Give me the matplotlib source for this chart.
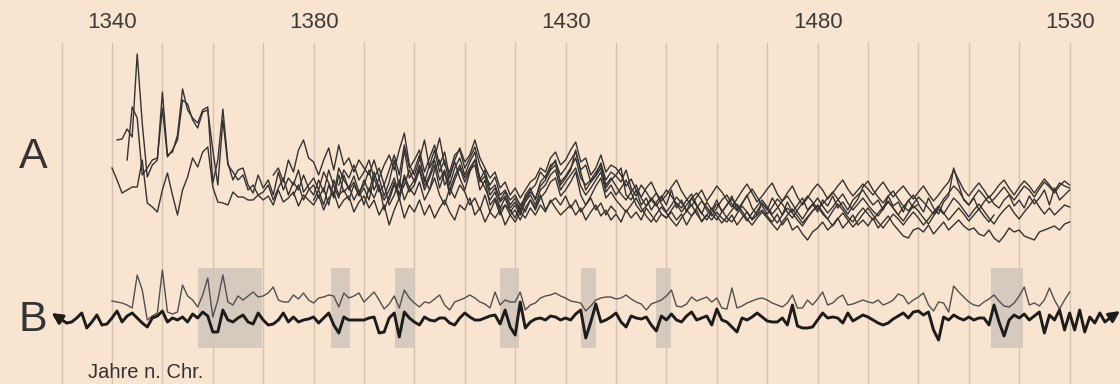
import matplotlib
matplotlib.use('Agg')
import matplotlib.pyplot as plt
from matplotlib.patches import Rectangle

plt.rcParams['font.family'] = ['Liberation Sans', 'DejaVu Sans']

# tick labels on top
tick_years = [1340, 1380, 1430, 1480, 1530]
grid_years = list(range(1330, 1531, 10))

# marked years (grey bands in B)
bands = [(1357.1, 1369.8), (1383.5, 1387.3), (1396.2, 1400.0), (1417.0, 1420.8),
         (1433.0, 1436.0), (1448.0, 1451.0), (1514.4, 1520.7)]

# A: single curves (values in chart units, smaller = higher)
a1_start = 1341
a1 = [140, 139, 129, 137, 54, 123, 177, 165, 160, 92, 155, 152, 135, 89, 110, 118, 123, 110, 107, 183,
      160, 109, 163, 180, 170, 168, 185, 193, 175,
      188, 180, 195, 172, 190, 178, 185, 170, 192, 185,
      178, 190, 172, 183, 195, 168, 180, 188, 176, 192,
      185, 170, 190, 178, 196, 182, 160, 188, 150, 178,
      170, 155, 182, 165, 150, 172, 160, 185, 168, 158,
      175, 162, 152, 180, 170, 190, 185, 200, 192, 205,
      198, 210, 195, 188, 200, 182, 176, 168, 160, 185,
      178, 170, 150, 172, 190, 182, 176, 168, 188, 180,
      175, 168, 195, 200, 190, 205, 198, 210, 202, 196,
      205, 190, 208, 200, 212, 198, 206, 214, 202, 210,
      200, 212, 205, 196, 210, 204, 195, 208, 215, 203,
      210, 198, 206, 215, 202, 212, 205, 198, 210, 204,
      212, 200, 206, 196, 208, 202, 210, 200, 195, 190,
      198, 205, 200, 210, 196, 206, 202, 212, 200, 208,
      204, 212, 198, 208, 214, 202, 196, 168, 185, 200,
      205, 198, 210, 202, 196, 204, 208, 200, 195, 206,
      200, 208, 196, 204, 198, 190, 205, 188, 200, 195,
      190]

a2_start = 1343
a2 = [160, 107, 118, 175, 168, 160, 158, 108, 157, 150, 140, 100, 104, 120, 128, 112, 110, 150, 185, 120,
      165, 172, 180, 175, 190, 185, 195,
      192, 185, 200, 188, 178, 195, 182, 190, 175, 188,
      195, 180, 192, 170, 186, 198, 175, 190, 182, 196,
      188, 200, 178, 192, 185, 205, 195, 180, 200, 188,
      195, 182, 200, 190, 178, 195, 205, 188, 198, 185,
      192, 205, 198, 210, 195, 212, 200, 215, 205, 210,
      218, 205, 212, 200, 208, 195, 210, 202, 198, 205,
      196, 208, 200, 212, 205, 198, 210, 203, 215, 206, 212]

a3_start = 1340
a3 = [168, 180, 193, 190, 187, 187, 160, 203, 207, 212, 190, 173, 195, 215, 190, 177, 158, 167, 152, 147,
      187, 202, 203, 205, 192, 197, 197, 200, 200, 195,
      200, 196, 205, 190, 202, 198, 192, 206, 195, 200,
      205, 195, 210, 198, 192, 208, 200, 196, 212, 202,
      196, 208, 200, 215, 205, 225, 210, 198, 218, 205,
      212, 200, 215, 205, 218, 208, 200, 212, 220, 205,
      210, 198, 215, 208, 222, 212, 218, 210, 225, 215,
      222, 212, 218, 208, 215, 205, 212, 200, 208, 215,
      210, 205, 215, 208, 220, 212, 205, 216, 210, 220,
      214, 222, 210, 218, 212, 220, 208, 215, 222, 214,
      218, 212, 220, 214, 225, 216, 210, 222, 215, 220,
      212, 218, 222, 215, 225, 218, 212, 220, 215, 210,
      216, 222, 214, 225, 218, 230, 226, 234, 240, 232,
      228, 222, 230, 225, 218, 228, 222, 215, 225, 220,
      226, 218, 228, 222, 216, 224, 230, 236, 238, 230,
      228, 232, 225, 234, 228, 222, 230, 225, 220, 226,
      230, 228, 234, 236, 230, 238, 242, 236, 228, 232,
      230, 236, 238, 240, 232, 230, 228, 226, 230, 224,
      222]

a4_start = 1372
a4 = [175, 168, 182, 160, 172, 150, 140, 158,
      162, 175, 160, 148, 170, 145, 165, 158, 172, 160,
      168, 175, 160, 178, 165, 155, 170, 150, 133, 165,
      175, 160, 140, 168, 158, 138, 165, 172, 155, 150,
      168, 158, 147, 165, 175, 185, 177, 195, 190, 200,
      195, 205, 198, 190, 185, 172, 178, 165, 162, 175,
      168, 160, 152, 170, 165, 182, 175, 163, 180, 172,
      176, 182, 170, 188, 196, 185, 192, 200, 206, 198,
      190, 196, 204, 212, 205, 198, 193, 200, 210, 216,
      208, 200, 195, 204, 211, 203, 196, 189, 197, 206,
      214, 207, 199, 204, 212, 218, 210, 203, 196, 202,
      209, 204, 198, 192, 199, 207, 214, 206, 199, 187,
      181, 190, 197, 203, 196, 191, 199, 206, 211, 204,
      197, 202, 208, 214, 207, 199, 193, 186, 191, 199,
      205, 197, 190, 196, 203, 199, 193, 187, 194, 200,
      193, 186, 190, 197, 189, 182, 187, 193, 186, 181,
      185]

a5_start = 1376
a5 = [195, 185, 200, 190,
      185, 198, 188, 205, 180, 195, 190, 200, 185, 195,
      180, 192, 172, 188, 200, 190, 178, 195, 185, 170,
      182, 165, 178, 190, 170, 160, 185, 175, 162, 178,
      190, 172, 160, 178, 188, 200, 192, 208, 198, 212,
      205, 215, 202, 195, 205, 190, 185, 175, 170, 190,
      182, 175, 168, 186, 195, 188, 180, 172, 192, 185,
      195, 188, 180, 192, 205, 212, 206, 198, 204, 214,
      218, 210, 203, 208, 200, 194, 205, 213, 220, 212,
      204, 210, 218, 222, 214, 206, 212, 219, 211, 203,
      209, 216, 223, 215, 208, 213, 220, 226, 218, 211,
      206, 214, 219, 211, 204, 210, 217, 222, 214, 208,
      214, 220, 213, 207, 201, 208, 215, 221, 213, 206,
      211, 218, 224, 216, 209, 214, 206, 198, 203, 210,
      217, 210, 204, 211, 218, 224, 216, 210, 205, 213,
      219, 212, 206, 199, 207, 214, 208, 215, 210, 205,
      207]

a6_start = 1380
a6 = [200, 190, 205, 185, 198, 175, 192, 186, 200, 190,
      205, 188, 198, 185, 210, 196, 182, 200, 178, 192,
      185, 170, 190, 178, 165, 188, 172, 195, 180, 168,
      182, 170, 165, 190, 180, 205, 198, 210, 205, 215,
      210, 220, 208, 200, 210, 198, 192, 182, 178, 196,
      190, 182, 172, 195, 205, 196, 186, 178, 198, 192,
      200, 206, 212, 205, 198, 208, 216, 222, 214, 207,
      213, 220, 226, 218, 211, 205, 214, 221, 215, 208,
      216, 223, 217, 210, 204, 211, 219, 225, 218, 212,
      218, 224, 230, 222, 215, 209, 216, 223, 217, 211,
      205, 212, 219, 226, 219, 213, 220, 227, 221, 214,
      208, 215, 222, 228, 221, 214, 219, 225, 218, 212,
      218, 225, 219, 212, 206, 213, 220, 214, 208, 214,
      221, 215, 209, 216, 222, 215]

a7_start = 1385
a7 = [185, 170, 178, 165, 180,
      172, 160, 178, 168, 185, 170, 155, 175, 145, 168,
      160, 150, 172, 158, 145, 165, 152, 178, 160, 148,
      162, 155, 140, 158, 168, 178, 172, 188, 182, 195,
      188, 198, 190, 182, 178, 168, 172, 158, 152, 165,
      160, 150, 142, 162, 158, 175, 168, 155, 172, 165,
      168, 175, 186, 179, 190, 197, 188, 182, 193, 201,
      195, 187, 180, 191, 199, 206, 197, 190, 201, 194,
      186, 192, 200, 207, 199, 191, 184, 193, 202, 196,
      189, 183, 194, 201, 193, 186, 197, 205, 198, 190,
      184, 190, 199, 193, 186, 180, 189, 196, 190, 184,
      189, 195, 188, 182, 190, 197, 191, 186, 193, 199,
      192, 186, 194, 201, 195, 188, 182, 170, 180, 190,
      196, 189, 183, 190, 198, 192, 185, 180, 188, 195,
      187, 181, 186, 193, 186, 179, 185, 191, 183, 186,
      188]

a8_start = 1395
a8 = [200, 185, 195, 175, 188,
      180, 168, 186, 175, 160, 180, 170, 190, 176, 165,
      178, 168, 160, 182, 176, 195, 188, 202, 196, 208,
      202, 212, 200, 192, 198, 186, 180, 170, 165, 182,
      176, 168, 158, 178, 185, 180, 172, 165, 185, 178,
      186, 194, 200, 192, 185, 198, 206, 200, 193, 204,
      212, 205, 197, 203, 210, 216, 208, 201, 207, 214,
      220, 212, 205, 199, 206, 214, 221, 213, 206, 200,
      207, 214, 208, 201, 196, 204, 212, 219, 211, 205,
      198, 206, 213, 207, 200, 194, 203, 210, 204, 198,
      205, 211, 216, 209, 202, 208, 215, 207, 201, 195,
      203]

# B: thin curve (1340-1530) and thick curve (1331-1538)
b_thin_start = 1340
b_thin = [301, 302, 303, 305, 308, 275, 290, 320, 316, 313,
          270, 312, 314, 312, 285, 296, 300, 307, 295, 278,
          317, 300, 275, 302, 305, 296, 300, 296, 292, 297,
          296, 293, 287, 300, 302, 302, 295, 299, 293, 300,
          303, 298, 297, 295, 296, 307, 293, 298, 296, 293,
          302, 297, 292, 300, 309, 304, 296, 308, 290, 298,
          303, 307, 302, 303, 299, 295, 305, 310, 302, 300,
          298, 295, 298, 302, 304, 308, 292, 305, 300, 302,
          302, 292, 310, 305, 303, 298, 296, 295, 293, 296,
          298, 301, 302, 303, 311, 306, 300, 298, 297, 297,
          299, 298, 295, 299, 302, 304, 310, 304, 302, 300,
          296, 290, 306, 307, 304, 297, 301, 299, 297, 302,
          298, 308, 309, 288, 308, 306, 303, 301, 299, 298,
          300, 303, 305, 307, 303, 295, 308, 308, 300, 305,
          299, 292, 305, 303, 298, 295, 305, 304, 302, 300,
          302, 303, 300, 305, 303, 300, 294, 296, 304, 300,
          297, 293, 305, 311, 302, 303, 312, 286, 292, 297,
          302, 305, 306, 302, 299, 295, 301, 306, 307, 303,
          296, 287, 305, 303, 306, 300, 288, 300, 309, 300,
          292]

b_thick_start = 1331
b_thick = [323, 322, 318, 313, 328, 322, 315, 325, 324, 318,
           311, 322, 316, 313, 318, 323, 327, 318, 316, 311,
           322, 318, 320, 317, 322, 314, 318, 312, 316, 332,
           332, 310, 320, 322, 318, 315, 322, 324, 313, 320,
           325, 324, 320, 313, 322, 317, 322, 320, 319, 317,
           323, 318, 313, 325, 333, 317, 320, 320, 320, 320,
           318, 317, 333, 332, 318, 313, 337, 312, 318, 322,
           325, 317, 320, 321, 318, 318, 323, 325, 318, 313,
           317, 320, 320, 318, 316, 315, 324, 310, 327, 335,
           302, 328, 322, 319, 318, 320, 316, 317, 320, 318,
           320, 314, 310, 338, 322, 304, 322, 320, 317, 313,
           322, 327, 316, 318, 319, 317, 325, 331, 316, 320,
           314, 320, 322, 316, 312, 320, 318, 316, 325, 309,
           320, 322, 327, 332, 318, 320, 317, 313, 317, 321,
           322, 322, 318, 325, 305, 326, 328, 328, 327, 320,
           313, 318, 317, 318, 323, 313, 321, 318, 315, 317,
           320, 323, 325, 323, 319, 316, 313, 318, 312, 311,
           315, 312, 330, 340, 317, 320, 315, 318, 320, 317,
           320, 318, 318, 325, 305, 322, 336, 320, 315, 318,
           314, 320, 316, 312, 333, 315, 320, 310, 330, 313,
           330, 310, 332, 317, 323, 313, 322, 318]

bg = '#f9e5cf'
fig = plt.figure(figsize=(11.2, 3.84), dpi=100, facecolor=bg)
ax = fig.add_axes([0, 0, 1, 1])
ax.set_facecolor(bg)
ax.set_xlim(1317.78, 1540.0)
ax.set_ylim(384, 0)
ax.axis('off')

# vertical year lines
ax.vlines(grid_years, 42, 384, color='#d2c4b3', lw=1.0, zorder=1)

# grey bands
for x0, x1 in bands:
    ax.add_patch(Rectangle((x0, 268), x1 - x0, 80, facecolor='#d0c6bb', edgecolor='none',
                           alpha=0.85, zorder=2))


def yrs(start, vals):
    return list(range(start, start + len(vals)))


# A curves
for s, v in [(a1_start, a1), (a2_start, a2), (a3_start, a3), (a4_start, a4),
             (a5_start, a5), (a6_start, a6), (a7_start, a7), (a8_start, a8)]:
    ax.plot(yrs(s, v), v, color='#333333', lw=1.0, zorder=3)

# B curves
ax.plot(yrs(b_thin_start, b_thin), b_thin, color='#505050', lw=1.0, zorder=3)
thick_x = yrs(b_thick_start, b_thick)
ax.plot(thick_x, b_thick, color='#1c1c1c', lw=2.1, zorder=4,
        solid_joinstyle='round', solid_capstyle='round')

# arrow heads at both ends of the thick curve
ax.annotate('', xy=(1328.0, 313), xytext=(thick_x[0], b_thick[0]),
            arrowprops=dict(arrowstyle='-|>', color='#1c1c1c', lw=2.1,
                            mutation_scale=16, shrinkA=0, shrinkB=0), zorder=4)
ax.annotate('', xy=(1540.0, 311), xytext=(thick_x[-1], b_thick[-1]),
            arrowprops=dict(arrowstyle='-|>', color='#1c1c1c', lw=2.1,
                            mutation_scale=16, shrinkA=0, shrinkB=0), zorder=4)

# year labels
for yr in tick_years:
    ax.text(yr, 22, str(yr), ha='center', va='center', fontsize=16, color='#3c3c3c')

# panel letters and caption
fig.text(33 / 1120, 1 - 157 / 384, 'A', ha='center', va='center', fontsize=31, color='#333333')
fig.text(33 / 1120, 1 - 320 / 384, 'B', ha='center', va='center', fontsize=31, color='#333333')
fig.text(88 / 1120, 1 - 372 / 384, 'Jahre n. Chr.', ha='left', va='center', fontsize=14.5, color='#333333')

fig.savefig('out.png', dpi=100, facecolor=bg)
